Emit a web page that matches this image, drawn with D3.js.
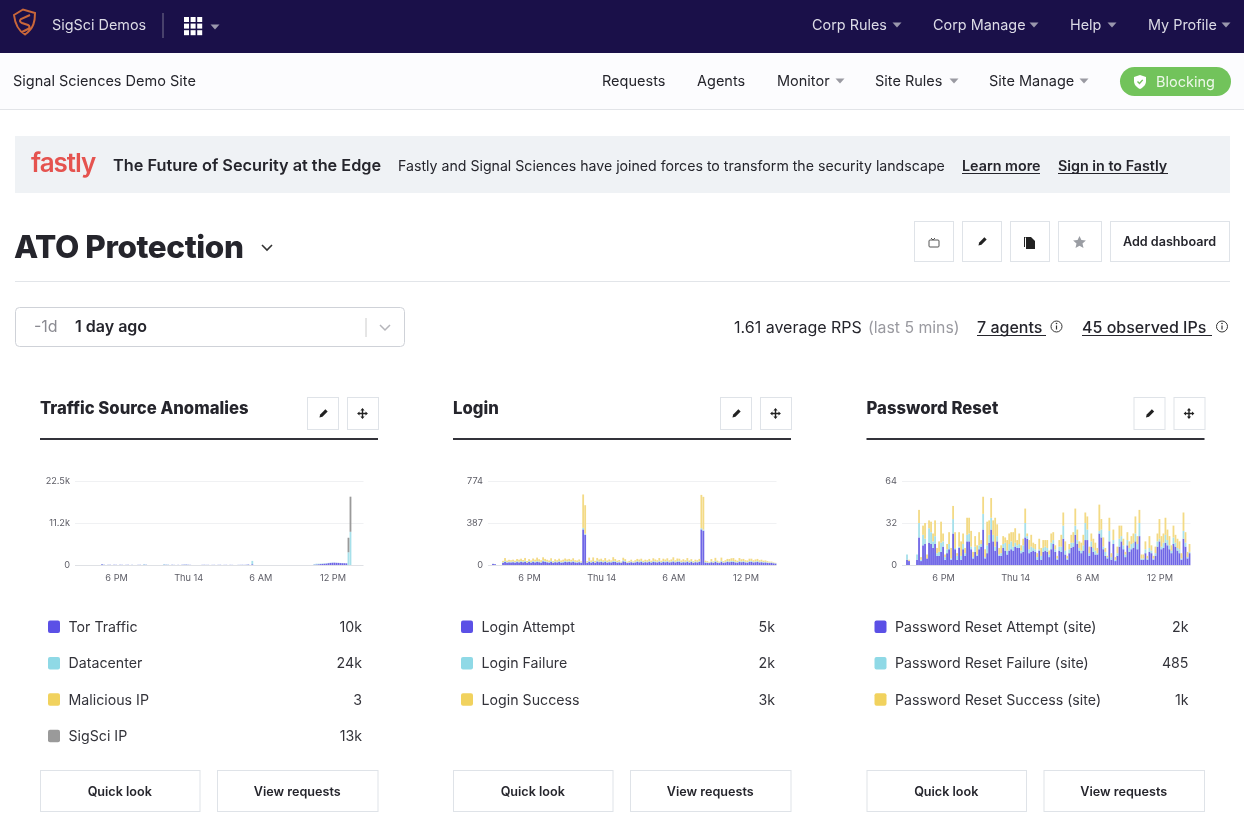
<!DOCTYPE html>
<html><head><meta charset="utf-8">
<script src="https://cdn.jsdelivr.net/npm/d3@7"></script>
<style>
html,body{margin:0;padding:0;background:#fff;overflow:hidden}
svg{display:block;font-family:Inter,"Noto Sans",sans-serif;filter:blur(.35px)}
.axis path,.axis line{display:none}
.axis text{font-family:Inter,sans-serif;font-size:9.2px;fill:#5d5d66}
</style></head><body>
<svg id="page" width="1244" height="830"></svg>
<script>
// ---------- chart data (values per 10 minute bucket) ----------
const tickHours = ["6 PM", "Thu 14", "6 AM", "12 PM"];

const torTraffic = [
0,0,0,0,0,0,0,0,0,0, 0,0,0,200,60,0,50,60,0,60, 50,0,60,50,0,40,60,0,40,0,
0,40,50,0,80,60,0,0,0,0, 0,0,0,0,80,60,40,0,60,30, 0,40,0,60,80,100,60,40,0,0,
0,0,0,40,50,30,40,0,30,40, 0,40,50,0,30,40,0,40,30,0, 0,30,40,50,30,60,120,0,200,0,
0,0,0,0,0,0,0,0,0,0, 0,0,0,0,0,0,0,0,0,0, 0,0,0,0,0,0,0,0,0,100,
150,200,250,300,350,400,500,550,600,620,580,560,520,500,480,450,0,0,0,0, 0,0,0,0];
const datacenter = [
0,0,0,0,0,0,0,0,0,0, 0,0,0,60,40,0,30,20,0,30, 20,0,30,20,0,20,20,0,30,0,
0,20,30,0,140,60,0,0,0,0, 0,0,0,0,160,60,80,0,40,20, 0,20,0,30,60,60,40,20,0,0,
0,0,0,20,30,20,20,0,20,20, 0,20,30,0,20,20,0,20,20,0, 0,20,20,30,20,30,60,0,900,0,
0,0,0,0,0,0,0,0,0,0, 0,0,0,0,0,0,0,0,0,0, 0,0,0,0,0,0,0,0,0,150,
200,150,120,100,100,90,60,60,50,40,40,30,30,30,20,20,3400,8900,0,0, 0,0,0,0];
const maliciousIp = new Array(144).fill(0);
const sigsciIp = [
0,0,0,0,0,0,0,0,0,0, 0,0,0,0,0,0,0,0,0,0, 0,0,0,0,0,0,0,0,0,0,
0,0,0,0,0,0,0,0,0,0, 0,0,0,0,0,0,0,0,0,0, 0,0,0,0,0,0,0,0,0,0,
0,0,0,0,0,0,0,0,0,0, 0,0,0,0,0,0,0,0,0,0, 0,0,0,0,0,0,0,0,0,0,
0,0,0,0,0,0,0,0,0,0, 0,0,0,0,0,0,0,0,0,0, 0,0,0,0,0,0,0,0,0,0,
0,0,0,0,0,0,0,0,0,0,0,0,0,0,0,0,3900,9400,0,0, 0,0,0,0];

const loginAttempt = [
0,0,10,8,0,0,0,20,28,22, 25,24,26,22,27,24,28,25,30,20,
28,22,30,24,28,26,22,34,28,25, 22,30,20,26,24,28,22,24,30,26,
28,25,30,24,22,26,20,328,279,20, 30,22,28,20,32,26,28,24,30,22,
26,24,30,28,22,25,20,34,28,18, 22,26,20,24,28,25,30,22,26,24,
28,22,30,26,24,30,22,28,25,30, 24,26,32,24,28,30,22,26,24,30,
22,28,20,26,24,28,328,316,22,20, 18,26,20,30,22,18,30,20,24,28,
26,30,28,24,22,30,26,28,24,22, 28,30,24,26,28,24,26,22,24,20,
18,20,16,14];
const loginFailure = [
0,0,2,1,0,0,0,6,8,6, 7,6,7,6,8,7,8,7,9,5,
8,6,8,7,8,7,6,9,8,7, 6,8,5,7,6,8,6,7,8,7,
8,7,8,6,6,7,5,14,10,5, 8,6,8,5,9,7,8,6,8,6,
7,6,8,7,6,7,5,9,8,5, 6,7,5,6,8,7,8,6,7,6,
8,6,8,7,6,8,6,8,7,8, 6,7,9,6,8,8,6,7,6,8,
6,8,5,7,6,8,12,10,6,5, 5,7,5,8,6,5,8,5,6,8,
7,8,8,6,6,8,7,8,6,6, 8,8,6,7,8,6,7,6,6,5,
5,5,4,3];
const loginSuccess = [
0,0,0,0,0,0,0,12,28,12, 16,14,16,12,20,18,22,14,26,12,
18,14,22,18,32,20,16,28,20,16, 14,24,10,20,14,22,14,18,22,18,
20,16,24,14,14,18,8,308,262,10, 30,14,34,14,24,18,22,14,26,14,
18,12,34,20,12,14,6,24,18,8, 10,16,8,14,20,18,20,12,16,14,
20,12,24,18,14,26,12,22,18,24, 14,18,30,14,24,20,14,20,14,26,
14,18,10,16,14,20,306,302,12,10, 6,22,8,28,12,8,30,10,14,20,
22,24,28,18,12,26,20,20,14,14, 22,20,14,18,20,14,16,12,12,10,
8,6,4,3];

const resetAttempt = [
0,0,4,3,0,0,0,4,21,3, 15,16,5,17,16,13,16,7,7,10,
14,4,9,12,4,24,12,4,13,4, 12,7,18,18,12,5,10,7,12,14,
27,5,9,17,27,18,11,18,7,7, 13,11,8,11,12,11,14,13,13,9,
10,21,20,9,10,11,10,4,11,4, 10,11,10,6,12,16,10,4,11,10,
20,8,4,9,13,14,23,16,11,9, 11,19,19,7,14,10,8,8,24,21,
12,7,5,18,4,16,3,7,14,18, 12,6,15,10,12,13,18,12,22,4,
4,9,4,10,9,4,7,14,18,12, 13,17,15,12,9,16,14,11,9,4,
20,14,5,9];
const resetFailure = [
0,0,4,0,0,0,0,4,11,1, 8,4,0,11,9,5,6,2,3,7,
4,2,3,4,1,11,1,3,1,3, 4,2,5,6,2,1,4,1,3,2,
12,1,6,6,9,5,3,4,1,2, 3,6,3,5,6,3,3,2,3,2,
5,11,2,3,4,2,2,2,1,3, 3,3,3,2,5,3,2,1,3,4,
10,3,1,3,4,3,7,3,2,2, 4,13,8,2,4,3,3,1,2,6,
2,3,1,8,2,3,1,2,6,4, 3,2,4,3,4,4,6,4,10,1,
1,3,1,3,2,1,2,4,2,2, 4,6,4,3,2,5,3,2,3,1,
6,3,1,1];
const resetSuccess = [
0,0,0,1,0,0,0,0,10,2, 7,12,3,6,8,6,12,4,8,16,
6,2,4,9,8,10,12,2,11,11, 8,4,13,12,12,4,8,7,10,3,
13,6,18,11,15,11,22,9,5,6, 6,4,8,8,7,11,11,4,8,4,
5,11,2,7,9,4,4,3,8,6, 6,5,6,3,7,6,3,2,5,9,
10,7,2,4,6,8,13,8,5,6, 8,8,10,5,6,7,6,4,20,8,
7,3,1,10,3,8,2,5,10,8, 5,2,6,5,6,7,13,6,10,3,
3,6,2,9,4,2,5,6,15,8, 7,13,8,7,4,9,6,7,6,4,
14,8,4,6];

const panelTitles = ["Traffic Source Anomalies", "Login", "Password Reset"];
const yTicks = [[0, 11250, 22500], [0, 387, 774], [0, 32, 64]];
const yTickLabels = [["0", "11.2k", "22.5k"], ["0", "387", "774"], ["0", "32", "64"]];
const legendNames = [
  ["Tor Traffic", "Datacenter", "Malicious IP", "SigSci IP"],
  ["Login Attempt", "Login Failure", "Login Success"],
  ["Password Reset Attempt (site)", "Password Reset Failure (site)", "Password Reset Success (site)"]];
const legendTotals = [["10k", "24k", "3", "13k"], ["5k", "2k", "3k"], ["2k", "485", "1k"]];
const panelSeries = [
  [torTraffic, datacenter, maliciousIp, sigsciIp],
  [loginAttempt, loginFailure, loginSuccess],
  [resetAttempt, resetFailure, resetSuccess]];

const topNav = ["Corp Rules", "Corp Manage", "Help", "My Profile"];
const siteNav = ["Requests", "Agents", "Monitor", "Site Rules", "Site Manage"];

// ---------- styling and layout ----------
const seriesColors = ["#5b50e6", "#8fd9e6", "#f1d25e", "#9a9a9a"];
const barColors = ["#6f66e6", "#a6e0ea", "#f3da85", "#9a9a9a"];
const ink = "#25252c";
const svg = d3.select("#page");
const txt = (g, s, x, y, size, o = {}) => g.append("text").text(s).attr("x", x).attr("y", y)
  .attr("font-size", size).attr("fill", o.fill || ink).attr("font-weight", o.w || 400)
  .attr("text-anchor", o.a || "start").attr("letter-spacing", o.ls || null);
const rect = (g, x, y, w, h, fill, stroke, r) => g.append("rect").attr("x", x).attr("y", y).attr("width", w)
  .attr("height", h).attr("fill", fill).attr("stroke", stroke || "none").attr("rx", r || 0);
const caret = (g, x, y, c) => g.append("path").attr("d", `M${x-4.5},${y-2.5}h9l-4.5,5z`).attr("fill", c);
const uline = (g, x1, x2, y, c) => g.append("line").attr("x1", x1).attr("x2", x2).attr("y1", y).attr("y2", y).attr("stroke", c).attr("stroke-width", 1.2);
const pencil = (g, x, y) => g.append("path").attr("transform", `translate(${x},${y}) rotate(45)`).attr("d", "M-1.6,-5h3.2v7.4l-1.6,2.6l-1.6,-2.6z").attr("fill", "#222");
const move = (g, x, y) => g.append("path").attr("transform", `translate(${x},${y})`).attr("d", "M-.7,-3h1.4v2.3h2.3v-1.4l2.4,2.1l-2.4,2.1v-1.4h-2.3v2.3h1.4l-2.1,2.4l-2.1,-2.4h1.4v-2.3h-2.3v1.4l-2.4,-2.1l2.4,-2.1v1.4h2.3v-2.3h-1.4l2.1,-2.4l2.1,2.4z").attr("fill", "#222");
const info = (g, x, y) => { g.append("circle").attr("cx", x).attr("cy", y).attr("r", 5.5).attr("fill", "none").attr("stroke", "#333");
  g.append("line").attr("x1", x).attr("x2", x).attr("y1", y - 1).attr("y2", y + 3).attr("stroke", "#333").attr("stroke-width", 1.2);
  g.append("circle").attr("cx", x).attr("cy", y - 3).attr("r", .8).attr("fill", "#333"); };

// top bar
const nav = svg.append("g");
rect(nav, 0, 0, 1244, 53, "#1a1049");
nav.append("path").attr("d", "M14,15l9,-5.5l12,3.5c0,8 -1,15 -10,21.5c-7,-4 -10,-11 -11,-19.5z M30,15l-9,4c-2,2 -1,3 1,4l6,2c2,1 2,3 0,4l-6,3").attr("fill", "none").attr("stroke", "#c9673a").attr("stroke-width", 2);
txt(nav, "SigSci Demos", 52, 30, 14.4, { fill: "#dcdbe6" });
nav.append("line").attr("x1", 163).attr("x2", 163).attr("y1", 13).attr("y2", 38).attr("stroke", "#77738f");
d3.range(9).forEach(i => rect(nav, 184 + (i % 3) * 6.6, 17 + Math.floor(i / 3) * 6.6, 5, 5, "#fff"));
caret(nav, 215, 27, "#9a97ad");
[812, 933, 1070, 1148].forEach((x, i) => txt(nav, topNav[i], x, 30, 14.4, { fill: "#dcdbe6" }));
[897, 1034, 1112, 1226].forEach(x => caret(nav, x, 25, "#9a97ad"));

// site bar
const sub = svg.append("g");
rect(sub, 0, 53, 1244, 56, "#fcfcfe");
rect(sub, 0, 109, 1244, 1, "#e2e4e8");
txt(sub, "Signal Sciences Demo Site", 13, 86, 14.5);
[602, 697, 777, 875, 989].forEach((x, i) => txt(sub, siteNav[i], x, 86, 14.5));
[840, 954, 1084].forEach(x => caret(sub, x, 81, "#9a9aa2"));
rect(sub, 1120, 67, 111, 29, "#72c35b", null, 14.5);
sub.append("path").attr("d", "M1140,75l6,2v4c0,4 -3,6.5 -6,8c-3,-1.5 -6,-4 -6,-8v-4z").attr("fill", "#fff");
sub.append("path").attr("d", "M1137.5,81.5l2,2l3.2,-3.6").attr("fill", "none").attr("stroke", "#72c35b").attr("stroke-width", 1.4);
txt(sub, "Blocking", 1156, 87, 14.5, { fill: "#eef8ea" });

// banner
const ban = svg.append("g");
rect(ban, 15, 136, 1215, 57, "#eff2f5");
txt(ban, "fastly", 31, 172, 26, { fill: "#e5534f", w: 600, ls: -1 });
txt(ban, "The Future of Security at the Edge", 113, 171, 16.3, { w: 600 });
txt(ban, "Fastly and Signal Sciences have joined forces to transform the security landscape", 398, 171, 14.15);
txt(ban, "Learn more", 962, 171, 14.3, { w: 600 });
uline(ban, 962, 1040, 173.5, ink);
txt(ban, "Sign in to Fastly", 1058, 171, 14.3, { w: 600 });
uline(ban, 1058, 1168, 173.5, ink);

// heading row
const head = svg.append("g");
txt(head, "ATO Protection", 14, 258, 31.5, { w: 800, ls: -.4 });
head.append("path").attr("d", "M262,245l5,5l5,-5").attr("fill", "none").attr("stroke", "#333").attr("stroke-width", 1.6);
[[914, 39], [962, 39], [1010, 39], [1058, 43], [1110, 119]].forEach(([x, w]) => rect(head, x + .5, 221.5, w, 40, "#fff", "#dfe3e8"));
rect(head, 929, 240, 10, 7, "none", "#555", 1);
head.append("path").attr("d", "M931,238l2,2l2,-2").attr("fill", "none").attr("stroke", "#555");
pencil(head, 982, 242);
head.append("path").attr("d", "M1026,237h5l4,4v8h-9z M1025,238v9h-1v-10h2z").attr("fill", "#222");
head.append("path").attr("d", "M1079.5,236l1.9,4.1l4.5,.5l-3.4,3l1,4.4l-4,-2.3l-4,2.3l1,-4.4l-3.4,-3l4.5,-.5z").attr("fill", "#9a9da3");
txt(head, "Add dashboard", 1169.5, 246, 12.6, { w: 600, a: "middle" });
rect(head, 15, 281, 1215, 1, "#e2e5e9");

// time selector and stats
const sel = svg.append("g");
rect(sel, 15.5, 307.5, 389, 39, "#fff", "#cfd2d8", 4);
txt(sel, "-1d", 34, 332, 16, { fill: "#8b8b92" });
txt(sel, "1 day ago", 75, 332, 16, { w: 600 });
sel.append("line").attr("x1", 366).attr("x2", 366).attr("y1", 318).attr("y2", 337).attr("stroke", "#ccc");
sel.append("path").attr("d", "M380,325l5,5l5,-5").attr("fill", "none").attr("stroke", "#b5b5ba").attr("stroke-width", 1.5);
txt(sel, "1.61 average RPS", 734, 333, 16);
txt(sel, "(last 5 mins)", 868, 333, 15.8, { fill: "#9a9aa0" });
txt(sel, "7 agents", 977, 333, 16, { w: 500 });
uline(sel, 977, 1046, 335.5, ink);
info(sel, 1056.5, 326.5);
txt(sel, "45 observed IPs", 1082, 333, 16, { w: 500 });
uline(sel, 1082, 1212, 335.5, ink);
info(sel, 1222, 326.5);

// dashboard panels
const t0 = new Date(2020, 4, 13, 14, 35), t1 = new Date(2020, 4, 14, 14, 35);
const tickDates = [new Date(2020, 4, 13, 18), new Date(2020, 4, 14, 0), new Date(2020, 4, 14, 6), new Date(2020, 4, 14, 12)];

panelTitles.forEach((title, p) => {
  const x0 = [40, 453, 866.5][p];
  const plotL = [75, 488, 902][p], plotR = plotL + 288.5, plotT = 481, plotB = 565;
  const g = svg.append("g");

  txt(g, title, x0, 414, 16.7, { w: 800 });
  [267, 307].forEach(dx => rect(g, x0 + dx + .5, 397.5, 31, 32, "#fff", "#dfe3e8"));
  pencil(g, x0 + 283, 414);
  move(g, x0 + 322.5, 413.5);
  rect(g, x0, 438, 338, 2, "#33333a");

  const series = panelSeries[p];
  const rows = d3.range(144).map(i => {
    const r = { i };
    series.forEach((s, k) => r[k] = s[i]);
    return r;
  });
  const stacked = d3.stack().keys(series.map((_, k) => k))(rows);
  const x = d3.scaleTime().domain([t0, t1]).range([plotL, plotR]);
  const y = d3.scaleLinear().domain([0, yTicks[p][2]]).range([plotB, plotT]);
  const bw = (plotR - plotL) / 144;

  g.append("g").selectAll("line").data(yTicks[p]).join("line")
    .attr("x1", plotL).attr("x2", plotR).attr("y1", d => Math.round(y(d)) + .5).attr("y2", d => Math.round(y(d)) + .5)
    .attr("stroke", (d, i) => i === 0 ? "#dfe1e5" : "#f0f1f3");

  stacked.forEach((layer, k) => {
    g.append("g").selectAll("rect").data(layer.filter(d => d[1] > d[0])).join("rect")
      .attr("x", d => plotL + d.data.i * bw + .1)
      .attr("width", bw - .2)
      .attr("y", d => y(d[1]))
      .attr("height", d => y(d[0]) - y(d[1]))
      .attr("fill", barColors[k]);
  });

  const xAxis = d3.axisBottom(x).tickValues(tickDates).tickFormat((d, i) => tickHours[i]).tickSize(0).tickPadding(0);
  g.append("g").attr("class", "axis").attr("transform", `translate(0,${plotB + 9})`).call(xAxis);
  const yAxis = d3.axisLeft(y).tickValues(yTicks[p]).tickFormat((d, i) => yTickLabels[p][i]).tickSize(0).tickPadding(0);
  g.append("g").attr("class", "axis").attr("transform", `translate(${plotL - 5},0)`).call(yAxis);

  legendNames[p].forEach((name, k) => {
    const ly = 627 + k * 36.4;
    rect(g, x0 + 8, ly - 6.5, 12, 12.5, seriesColors[k], null, 2);
    txt(g, name, x0 + 28.5, ly + 5, 14.2, { fill: "#33333a" });
    txt(g, legendTotals[p][k], x0 + 322, ly + 5, 14.2, { a: "end", fill: "#33333a" });
  });

  [[0, 159.5, "Quick look"], [177, 160.5, "View requests"]].forEach(([dx, w, label]) => {
    rect(g, x0 + dx + .5, 770.5, w, 41, "#fff", "#dfe3e8");
    txt(g, label, x0 + dx + w / 2, 796, 12.6, { w: 600, a: "middle" });
  });
});
</script>
</body></html>
